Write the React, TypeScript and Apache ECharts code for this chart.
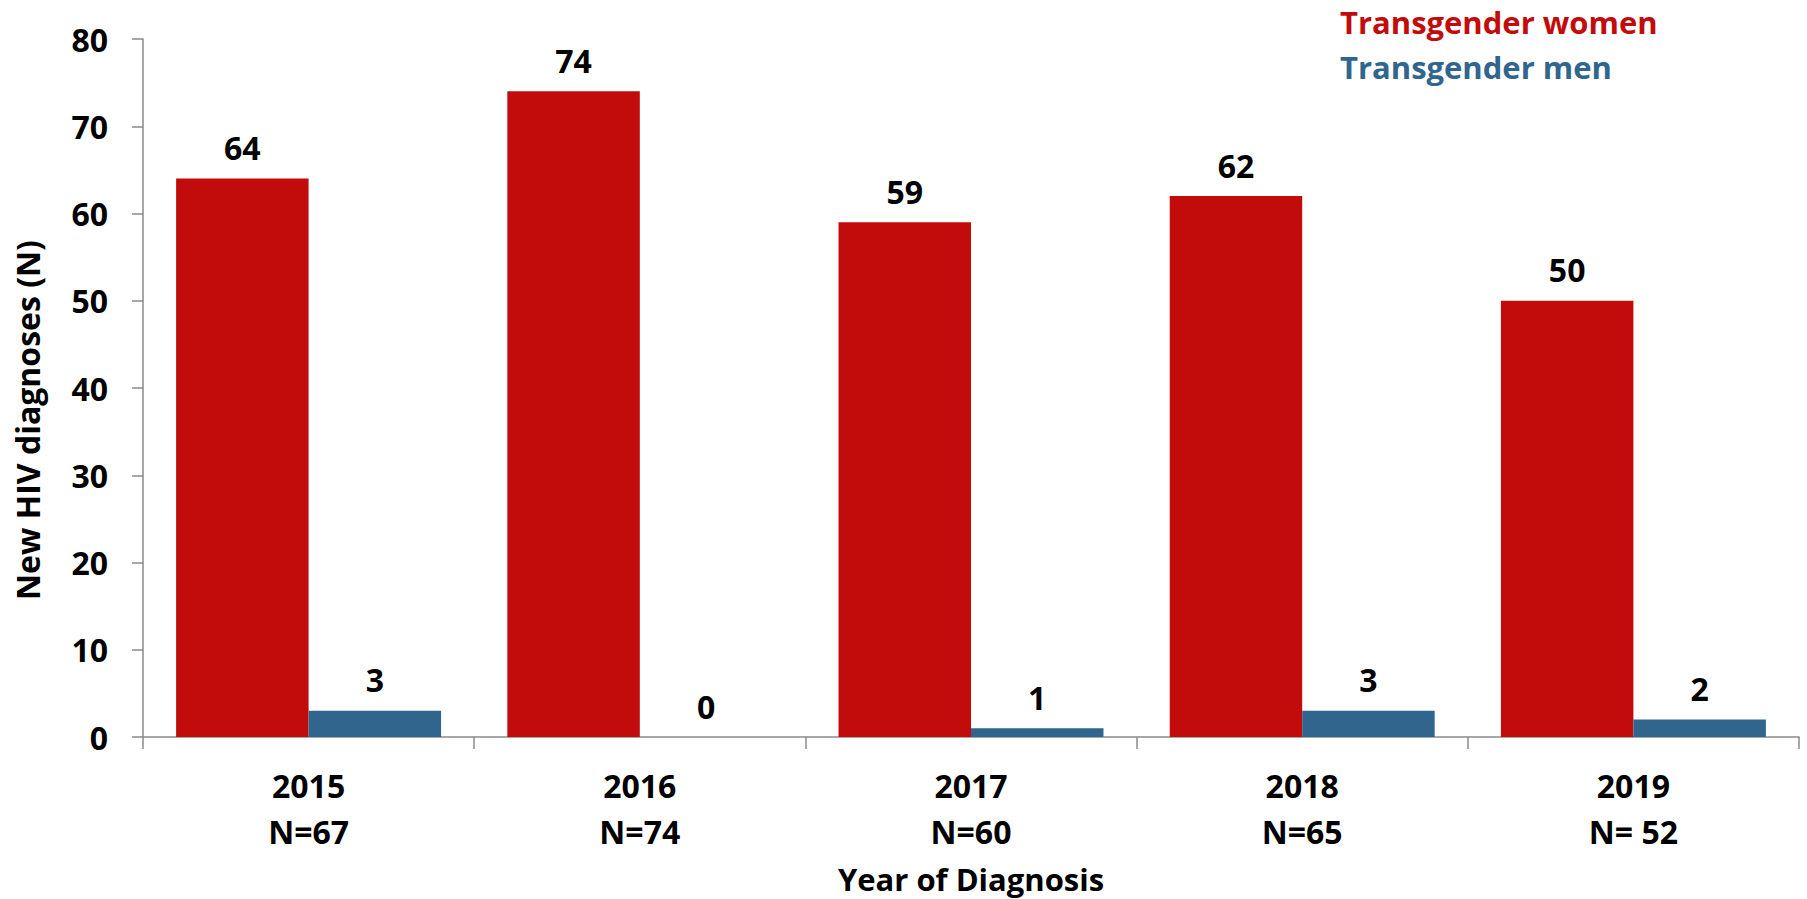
import React, { useEffect, useRef } from "react";
import * as echarts from "echarts";

const years = ["2015", "2016", "2017", "2018", "2019"];
const totals = ["N=67", "N=74", "N=60", "N=65", "N= 52"];
const women = [64, 74, 59, 62, 50];
const men = [3, 0, 1, 3, 2];
const yTicks = { min: 0, max: 80, interval: 10 };
const yTitle = "New HIV diagnoses (N)";
const xTitle = "Year of Diagnosis";

const RED = "#C20B0B";
const BLUE = "#30668E";
const FONT = "'Open Sans', 'Noto Sans', sans-serif";

export default function App() {
  const ref = useRef<HTMLDivElement>(null);
  useEffect(() => {
    if (!ref.current) return;
    const chart = echarts.init(ref.current, null, { renderer: "svg" });
    const categories = years.map((y, i) => `${y}\n${totals[i]}`);
    const labelStyle = {
      show: true,
      position: "top",
      distance: 15,
      color: "#000",
      fontFamily: FONT,
      fontWeight: "bold",
      fontSize: 32,
    };
    chart.setOption({
      animation: false,
      backgroundColor: "#fff",
      textStyle: { fontFamily: FONT },
      grid: { left: 143, right: 8, top: 39, bottom: 159, containLabel: false },
      legend: {
        orient: "vertical",
        left: 1335,
        top: 6,
        padding: 0,
        icon: "none",
        itemWidth: 0,
        itemHeight: 0,
        itemGap: 14,
        selectedMode: false,
        textStyle: { fontFamily: FONT, fontWeight: "bold", fontSize: 31 },
        data: [
          { name: "Transgender women", textStyle: { color: RED } },
          { name: "Transgender men", textStyle: { color: BLUE } },
        ],
      },
      graphic: [
        {
          type: "text",
          x: 27,
          y: 420,
          rotation: Math.PI / 2,
          style: {
            text: yTitle,
            fill: "#000",
            font: `bold 32px ${FONT}`,
            textAlign: "center",
            textVerticalAlign: "middle",
          },
        },
      ],
      xAxis: {
        type: "category",
        data: categories,
        name: xTitle,
        nameLocation: "middle",
        nameGap: 126,
        nameTextStyle: { color: "#000", fontFamily: FONT, fontWeight: "bold", fontSize: 31 },
        axisLine: { lineStyle: { color: "#8a8a8a", width: 1.5 } },
        axisTick: { show: true, length: 12, lineStyle: { color: "#8a8a8a", width: 1.5 } },
        axisLabel: {
          color: "#000",
          fontFamily: FONT,
          fontWeight: "bold",
          fontSize: 32,
          lineHeight: 46,
          margin: 25,
        },
      },
      yAxis: {
        type: "value",
        min: yTicks.min,
        max: yTicks.max,
        interval: yTicks.interval,
        splitLine: { show: false },
        axisLine: { show: true, lineStyle: { color: "#8a8a8a", width: 1.5 } },
        axisTick: { show: true, length: 11, lineStyle: { color: "#8a8a8a", width: 1.5 } },
        axisLabel: {
          color: "#000",
          fontFamily: FONT,
          fontWeight: "bold",
          fontSize: 32,
          margin: 35,
        },
      },
      series: [
        {
          name: "Transgender women",
          type: "bar",
          data: women,
          barGap: "0%",
          barCategoryGap: "20%",
          itemStyle: { color: RED },
          label: labelStyle,
        },
        {
          name: "Transgender men",
          type: "bar",
          data: men,
          barGap: "0%",
          barCategoryGap: "20%",
          itemStyle: { color: BLUE },
          label: labelStyle,
        },
      ],
    });
    return () => chart.dispose();
  }, []);
  return (
    <div
      ref={ref}
      style={{ position: "absolute", left: 0, top: 0, width: 1807, height: 899 }}
    />
  );
}
